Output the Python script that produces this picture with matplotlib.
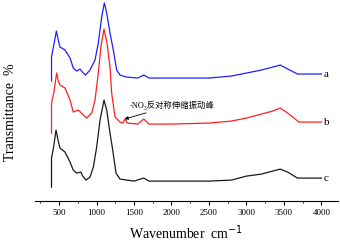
import matplotlib
matplotlib.use("Agg")
import matplotlib.pyplot as plt

# wavenumbers (cm-1) and transmittance (offset, arbitrary units)
wn_a = [400, 400, 430, 465, 490, 513, 580, 647, 690, 736, 780, 800, 853, 913, 980, 1024,
        1069, 1104, 1136, 1180, 1224, 1269, 1313, 1400, 1550, 1630, 1700, 2000, 2500,
        2800, 3000, 3200, 3350, 3450, 3550, 3680, 3750, 4000]
t_a = [120, 144, 156, 170, 161, 154, 151, 143, 133, 130, 132, 130, 126, 131, 141, 158,
       184, 198, 188, 168, 151, 131, 126, 124, 123, 126, 123, 123, 123,
       125, 128, 131, 134, 136, 132, 127, 127, 127]

wn_b = [400, 400, 430, 469, 490, 513, 580, 647, 690, 757, 800, 869, 936, 980, 1024, 1060,
        1100, 1140, 1180, 1202, 1247, 1313, 1350, 1380, 1410, 1550, 1630, 1700, 2000,
        2500, 2800, 3000, 3200, 3350, 3450, 3550, 3700, 4000]
t_b = [68, 98, 108, 128, 120, 116, 113, 101, 89, 91, 88, 83, 88, 101, 128, 155,
       172, 158, 134, 108, 84, 79, 78, 82, 78, 77, 82, 77, 77,
       78, 80, 83, 87, 90, 93, 88, 79, 79]

wn_c = [400, 400, 430, 460, 490, 513, 580, 647, 690, 736, 790, 816, 860, 913, 958, 1002,
        1047, 1100, 1136, 1180, 1216, 1260, 1313, 1500, 1630, 1700, 2000, 2500, 2800,
        3000, 3200, 3450, 3550, 3680, 4000]
t_c = [14, 43, 55, 71, 60, 53, 49, 39, 31, 28, 29, 25, 21, 24, 34, 54,
       81, 101, 91, 68, 51, 28, 22, 20, 23, 20, 20, 20, 21,
       25, 27, 32, 29, 23, 23]

curve_labels = ["a", "b", "c"]
colors = ["#1f1fff", "#ff1f1f", "#1a1a1a"]

plt.rcParams["font.family"] = ["Liberation Serif", "Noto Sans CJK SC"]

fig = plt.figure(figsize=(3.4, 2.42), dpi=100)
ax = fig.add_axes([0.103, 0.169, 0.891, 0.831])

series = [(wn_a, t_a), (wn_b, t_b), (wn_c, t_c)]
for (w, t), lab, col in zip(series, curve_labels, colors):
    ax.plot(w, t, color=col, lw=0.9)
    ax.text(4030, t[-1], lab, fontsize=8, va="center", ha="left")

ax.annotate("-NO\u2083反对称伸缩振动峰", xy=(1375, 82), xytext=(1440, 91),
            fontsize=6, va="bottom", ha="left",
            arrowprops=dict(arrowstyle="-|>", color="black", lw=0.6,
                            mutation_scale=5, shrinkA=0, shrinkB=0))

ax.set_xlim(180, 4220)
ax.set_ylim(0, 201)
ax.set_xticks([500, 1000, 1500, 2000, 2500, 3000, 3500, 4000])
ax.set_xticks(range(250, 4250, 500), minor=True)
ax.set_yticks([])
for s in ["left", "right", "top"]:
    ax.spines[s].set_visible(False)
ax.spines["bottom"].set_linewidth(0.8)
ax.tick_params(axis="x", which="major", length=3, width=0.8, labelsize=6.5, pad=3)
ax.tick_params(axis="x", which="minor", length=1.5, width=0.6)
ax.set_xlabel("Wavenumber  cm$^{-1}$", fontsize=10, labelpad=4)
ax.set_ylabel("Transmittance  %", fontsize=10)
ax.yaxis.set_label_coords(-0.06, 0.44)

fig.savefig("out.png", dpi=100)
